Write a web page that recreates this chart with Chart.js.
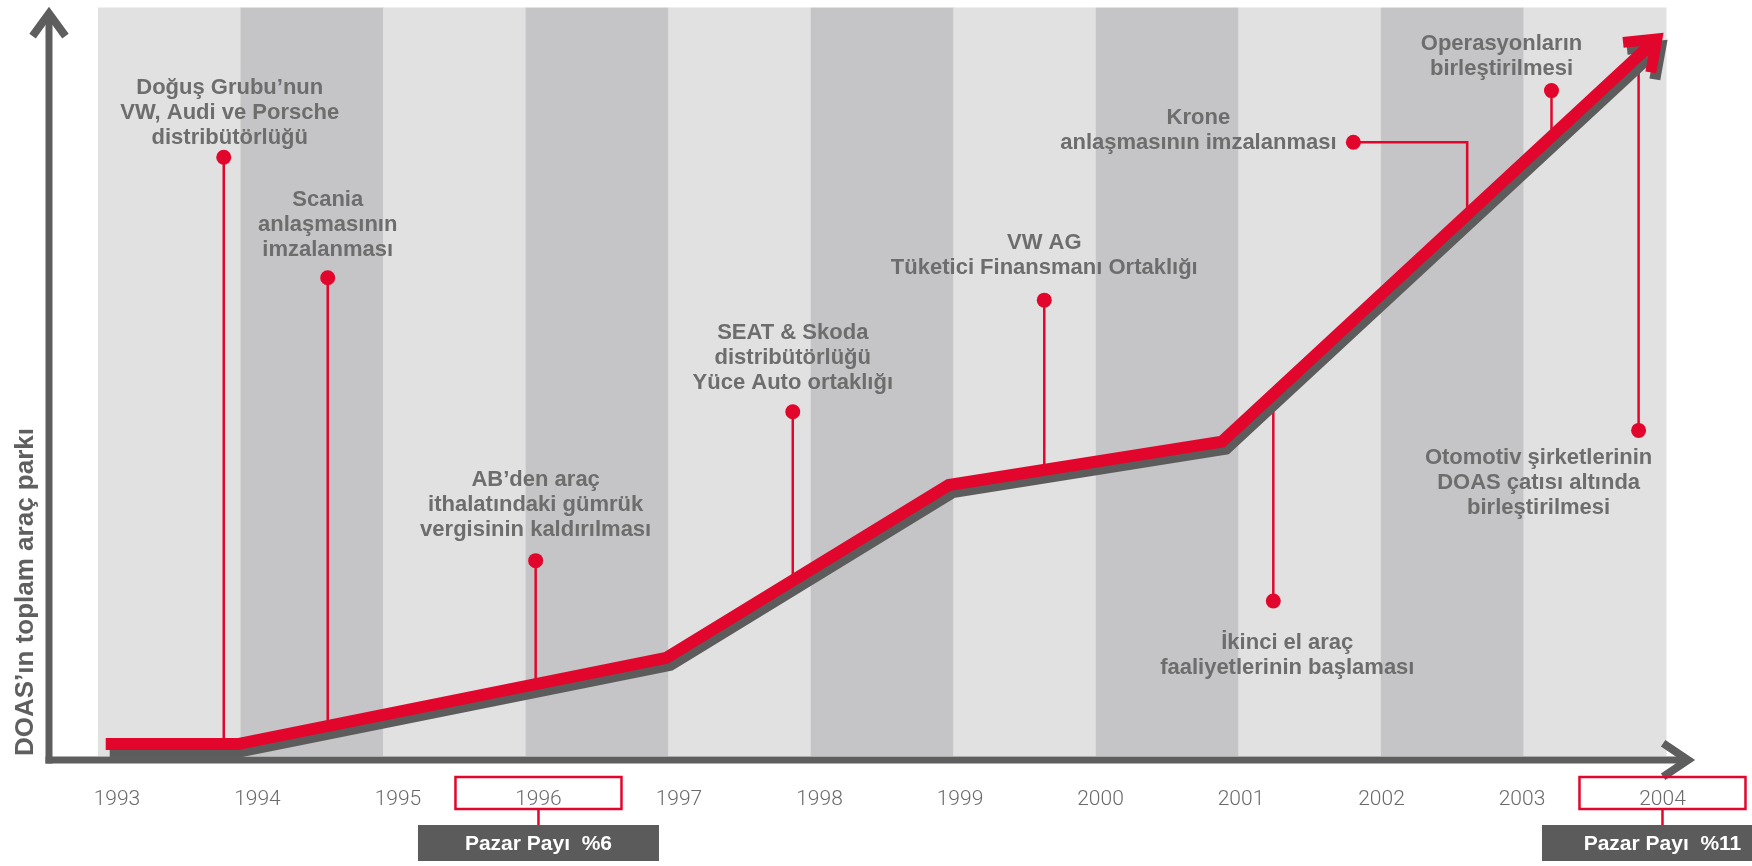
<!DOCTYPE html>
<html>
<head>
<meta charset="utf-8">
<script src="https://cdn.jsdelivr.net/npm/chart.js@4.4.0/dist/chart.umd.min.js"></script>
<style>
html,body{margin:0;padding:0;background:#ffffff;}
#wrap{width:1752px;height:866px;position:relative;}
</style>
</head>
<body>
<div id="wrap"><canvas id="c" width="1752" height="866"></canvas></div>
<script>
// ---------------- DATA ----------------
const tickYears = [1993, 1994, 1995, 1996, 1997, 1998, 1999, 2000, 2001, 2002, 2003, 2004];

// DOAS total vehicle park (relative index)
const parkYears  = [1992.92, 1993.86, 1996.91, 1998.92, 2000.865, 2003.96];
const parkValues = [1.6, 1.6, 13.1, 36.2, 42.0, 95.8];

// Milestones: marker position and where the marker's stem meets the line
const eventYears        = [1993.76, 1994.50, 1995.98, 1997.81, 1999.60, 2001.80, 2003.21, 2003.83, 2001.23];
const eventMarkerValues = [80.0, 63.9, 26.1, 46.0, 60.9, 82.0, 88.9, 43.5, 20.7];
const eventStemYears    = [1993.76, 1994.50, 1995.98, 1997.81, 1999.60, 2002.61, 2003.21, 2003.83, 2001.23];
const eventLabels = [
  ['Doğuş Grubu’nun', 'VW, Audi ve Porsche', 'distribütörlüğü'],
  ['Scania', 'anlaşmasının', 'imzalanması'],
  ['AB’den araç', 'ithalatındaki gümrük', 'vergisinin kaldırılması'],
  ['SEAT & Skoda', 'distribütörlüğü', 'Yüce Auto ortaklığı'],
  ['VW AG', 'Tüketici Finansmanı Ortaklığı'],
  ['Krone', 'anlaşmasının imzalanması'],
  ['Operasyonların', 'birleştirilmesi'],
  ['Otomotiv şirketlerinin', 'DOAS çatısı altında', 'birleştirilmesi'],
  ['İkinci el araç', 'faaliyetlerinin başlaması']
];

// Market share call-outs
const shareYears  = [1996, 2004];
const shareLabels = ['Pazar Payı  %6', 'Pazar Payı  %11'];

const yAxisTitle = 'DOAS’ın toplam araç parkı';

// ---------------- STYLE ----------------
const RED = '#e2062c';
const SHADOW = '#5c5c5c';
const AXIS = '#5e5e5e';
const TEXT = '#6d6d6d';
const BAND_LIGHT = '#e1e1e1';
const BAND_DARK = '#c5c4c7';
const FONT = '"Liberation Sans", Arial, Helvetica, sans-serif';
// label offsets (pixels) of the first text line centre relative to the marker
const labelOffsets = [[6,-69],[0,-78],[0,-81],[0,-79],[0,-57],[-155,-24],[-50,-47],[-100,28],[14,42]];
const SHADOW_DX = 4, SHADOW_DY = 7;

function pts(xs, ys) { return xs.map((x, i) => ({x: x, y: ys[i]})); }

function lineValueAt(year) {
  for (let i = 0; i < parkYears.length - 1; i++) {
    const a = parkYears[i], b = parkYears[i + 1];
    if (year >= a && year <= b) {
      const t = (year - a) / (b - a);
      return parkValues[i] + t * (parkValues[i + 1] - parkValues[i]);
    }
  }
  return parkValues[parkValues.length - 1];
}

function chevron(ctx, tx, ty, ang, len, half, width, color) {
  ctx.save();
  ctx.strokeStyle = color;
  ctx.lineWidth = width;
  ctx.lineJoin = 'miter';
  ctx.miterLimit = 10;
  ctx.lineCap = 'butt';
  const back = ang + Math.PI;
  ctx.beginPath();
  ctx.moveTo(tx + len * Math.cos(back - half), ty + len * Math.sin(back - half));
  ctx.lineTo(tx, ty);
  ctx.lineTo(tx + len * Math.cos(back + half), ty + len * Math.sin(back + half));
  ctx.stroke();
  ctx.restore();
}

function endArrow(chart, dsIndex, color) {
  const meta = chart.getDatasetMeta(dsIndex);
  const n = meta.data.length;
  const p1 = meta.data[n - 2], p2 = meta.data[n - 1];
  const ang = Math.atan2(p2.y - p1.y, p2.x - p1.x);
  chevron(chart.ctx, p2.x, p2.y, ang, 34, 37 * Math.PI / 180, 11, color);
}

const decoPlugin = {
  id: 'deco',
  beforeDatasetsDraw(chart) {
    const ctx = chart.ctx, a = chart.chartArea;
    const xs = chart.scales.x, ys = chart.scales.y;
    // alternating year bands
    const nb = tickYears.length - 1;
    const w = (a.right - a.left) / nb;
    for (let k = 0; k < nb; k++) {
      ctx.fillStyle = k % 2 === 0 ? BAND_LIGHT : BAND_DARK;
      ctx.fillRect(a.left + k * w, a.top, w + 0.5, a.bottom - a.top);
    }
    // stems from markers to the line
    ctx.save();
    ctx.strokeStyle = RED;
    ctx.lineWidth = 2.5;
    for (let i = 0; i < eventYears.length; i++) {
      const dx = xs.getPixelForValue(eventYears[i]);
      const dy = ys.getPixelForValue(eventMarkerValues[i]);
      const sx = xs.getPixelForValue(eventStemYears[i]);
      const ly = ys.getPixelForValue(lineValueAt(eventStemYears[i]));
      ctx.beginPath();
      ctx.moveTo(dx, dy);
      ctx.lineTo(sx, dy);
      ctx.lineTo(sx, ly);
      ctx.stroke();
    }
    ctx.restore();
  },
  beforeDatasetDraw(chart, args) {
    if (args.index === 1) {
      chart.ctx.save();
      chart.ctx.translate(SHADOW_DX, SHADOW_DY);
    }
  },
  afterDatasetDraw(chart, args) {
    if (args.index === 1) {
      endArrow(chart, 1, SHADOW);
      chart.ctx.restore();
    } else if (args.index === 0) {
      endArrow(chart, 0, RED);
    }
  },
  afterDatasetsDraw(chart) {
    const ctx = chart.ctx, a = chart.chartArea;
    const xs = chart.scales.x, ys = chart.scales.y;
    // axes
    ctx.save();
    ctx.strokeStyle = AXIS;
    ctx.fillStyle = AXIS;
    ctx.lineWidth = 7;
    ctx.lineCap = 'butt';
    const axY = a.bottom + 4;
    const axX = a.left - 49;
    ctx.beginPath();
    ctx.moveTo(axX - 3.5, axY);
    ctx.lineTo(a.right + 20, axY);
    ctx.stroke();
    ctx.beginPath();
    ctx.moveTo(axX, axY + 3.5);
    ctx.lineTo(axX, a.top + 8);
    ctx.stroke();
    ctx.restore();
    chevron(ctx, a.right + 22, axY, 0, 30, 34 * Math.PI / 180, 8, AXIS);
    chevron(ctx, axX, a.top + 6, -Math.PI / 2, 28, 36 * Math.PI / 180, 8, AXIS);
    // labels
    ctx.save();
    ctx.fillStyle = TEXT;
    ctx.font = 'bold 22px ' + FONT;
    ctx.textAlign = 'center';
    ctx.textBaseline = 'middle';
    for (let i = 0; i < eventLabels.length; i++) {
      const px = xs.getPixelForValue(eventYears[i]) + labelOffsets[i][0];
      const py = ys.getPixelForValue(eventMarkerValues[i]) + labelOffsets[i][1];
      eventLabels[i].forEach((t, j) => ctx.fillText(t, px, py + j * 25));
    }
    ctx.restore();
  },
  afterDraw(chart) {
    const ctx = chart.ctx, a = chart.chartArea;
    const xs = chart.scales.x;
    ctx.save();
    for (let i = 0; i < shareYears.length; i++) {
      const cx = xs.getPixelForValue(shareYears[i]);
      const top = a.bottom + 21;
      ctx.strokeStyle = RED;
      ctx.lineWidth = 2.5;
      ctx.strokeRect(cx - 83, top, 166, 32);
      ctx.beginPath();
      ctx.moveTo(cx, top + 32);
      ctx.lineTo(cx, top + 48);
      ctx.stroke();
      ctx.fillStyle = '#5b5b5b';
      ctx.fillRect(cx - 120.5, top + 48, 241, 36);
      ctx.fillStyle = '#ffffff';
      ctx.font = 'bold 21px ' + FONT;
      ctx.textAlign = 'center';
      ctx.textBaseline = 'middle';
      ctx.fillText(shareLabels[i], cx, top + 67);
    }
    ctx.restore();
  }
};

const parkData = pts(parkYears, parkValues);

new Chart(document.getElementById('c'), {
  type: 'line',
  data: {
    datasets: [
      {
        label: 'Araç parkı',
        data: parkData,
        borderColor: RED,
        borderWidth: 12,
        pointRadius: 0,
        tension: 0,
        borderJoinStyle: 'miter',
        borderCapStyle: 'butt',
        clip: false,
        order: 1
      },
      {
        label: 'gölge',
        data: parkData,
        borderColor: SHADOW,
        borderWidth: 12,
        pointRadius: 0,
        tension: 0,
        borderJoinStyle: 'miter',
        borderCapStyle: 'butt',
        clip: false,
        order: 2
      },
      {
        type: 'scatter',
        label: 'Olaylar',
        data: pts(eventYears, eventMarkerValues),
        pointRadius: 7.5,
        pointBackgroundColor: RED,
        pointBorderWidth: 0,
        showLine: false,
        clip: false,
        order: 0
      }
    ]
  },
  options: {
    responsive: false,
    animation: false,
    events: [],
    layout: { padding: { top: 2, right: 86, bottom: 0, left: 0 } },
    plugins: { legend: { display: false }, tooltip: { enabled: false } },
    scales: {
      x: {
        type: 'linear',
        min: 1992.865,
        max: 2004.025,
        afterBuildTicks: s => { s.ticks = tickYears.map(v => ({ value: v })); },
        afterFit: s => { s.height = 110; },
        grid: { display: false },
        border: { display: false },
        ticks: {
          autoSkip: false,
          maxRotation: 0,
          padding: 23,
          color: '#6a6a6a',
          font: { family: 'Roboto, "Liberation Sans", sans-serif', size: 21, weight: '300' },
          callback: v => String(v)
        }
      },
      y: {
        type: 'linear',
        min: 0,
        max: 100,
        afterFit: s => { s.width = 98; },
        grid: { display: false },
        border: { display: false },
        ticks: { display: false },
        title: {
          display: true,
          text: yAxisTitle,
          align: 'start',
          color: '#5f5f5f',
          padding: { top: 10, bottom: 0 },
          font: { family: FONT, size: 26, weight: 'bold' }
        }
      }
    }
  },
  plugins: [decoPlugin]
});
</script>
</body>
</html>
